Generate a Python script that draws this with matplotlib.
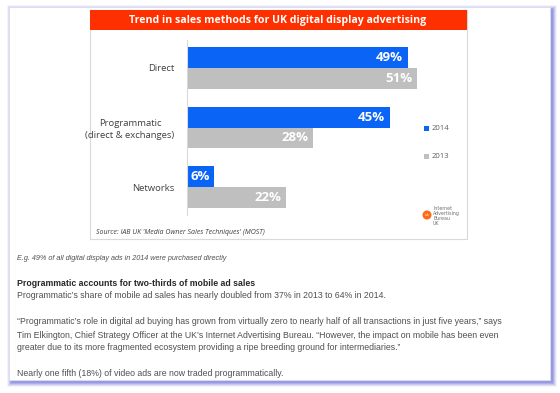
import matplotlib
matplotlib.use("Agg")
from matplotlib import pyplot as plt
from matplotlib.patches import Rectangle, Circle

categories = ["Direct", "Programmatic\n(direct & exchanges)", "Networks"]
values_2014 = [49, 45, 6]
values_2013 = [51, 28, 22]
series_names = ["2014", "2013"]
title = "Trend in sales methods for UK digital display advertising"
source = "Source: IAB UK 'Media Owner Sales Techniques' (MOST)"

W, H = 560, 393
BLUE = "#0a64f5"
GREY = "#bfbfbf"
RED = "#ff3000"


def fx(x):
    return x / W


def fy(y):
    return 1 - y / H


fig = plt.figure(figsize=(W / 100, H / 100), dpi=100)
fig.patch.set_facecolor("white")

# page frame with lavender shadow (heavier to the bottom-right)
bg = fig.add_axes([0, 0, 1, 1])
bg.set_xlim(0, W)
bg.set_ylim(H, 0)
bg.axis("off")
for i, a in enumerate([0.10, 0.18, 0.28, 0.42, 0.58]):
    d = 5 - i
    bg.add_patch(Rectangle((9 - d + 3, 7 - d + 3), 541 + 2 * d - 1, 373 + 2 * d - 1,
                           facecolor="#8a8ae0", alpha=a, edgecolor="none"))
bg.add_patch(Rectangle((9, 7), 541, 373, facecolor="white", edgecolor="#dcdcf0", lw=0.6))

# chart box + title band
bg.add_patch(Rectangle((90, 10), 377, 229, facecolor="white", edgecolor="#d9d9d9", lw=0.8))
bg.add_patch(Rectangle((90, 10), 377, 20, facecolor=RED, edgecolor="none"))
bg.text(278, 20, title, color="white", fontsize=7.6, fontweight="bold",
        family="Open Sans", ha="center", va="center")
bg.text(96, 233, source, color="#404040", fontsize=5.0, style="italic",
        family="Open Sans", ha="left", va="center")

# legend
bg.add_patch(Rectangle((424, 126), 5, 5, facecolor=BLUE, edgecolor="none"))
bg.add_patch(Rectangle((424, 154), 5, 5, facecolor=GREY, edgecolor="none"))
bg.text(432, 129, series_names[0], fontsize=5.6, color="#606060", family="Open Sans", va="center")
bg.text(432, 157, series_names[1], fontsize=5.6, color="#606060", family="Open Sans", va="center")

# IAB logo
bg.add_patch(Circle((427, 215), 4.5, facecolor="#ff6a13", edgecolor="none"))
bg.text(427, 215, "iab", fontsize=2.2, color="white", ha="center", va="center")
bg.text(433, 216, "Internet\nAdvertising\nBureau\nUK", fontsize=3.4, color="#707070",
        ha="left", va="center", linespacing=1.0)

# bar chart
ax = fig.add_axes([fx(187), fy(215), fx(457) - fx(187), fy(40) - fy(215)])
ax.set_xlim(0, 60)
ax.set_ylim(2.47, -0.47)
pos = list(range(len(categories)))
h = 0.345
ax.barh([p - h / 2 for p in pos], values_2014, height=h, color=BLUE)
ax.barh([p + h / 2 for p in pos], values_2013, height=h, color=GREY)
for p, v in zip(pos, values_2014):
    ax.text(v - 1, p - h / 2, f"{v}%", color="white", fontsize=9.5, fontweight="bold",
            family="Open Sans", ha="right", va="center")
for p, v in zip(pos, values_2013):
    ax.text(v - 1, p + h / 2, f"{v}%", color="white", fontsize=9.5, fontweight="bold",
            family="Open Sans", ha="right", va="center")
ax.set_yticks(pos)
ax.set_yticklabels(categories, fontsize=6.8, color="#404040", family="Open Sans",
                   linespacing=1.35, ha="right", multialignment="center")
ax.tick_params(axis="y", length=0, pad=9)
ax.set_xticks([])
for s in ["top", "right", "bottom"]:
    ax.spines[s].set_visible(False)
ax.spines["left"].set_color("#d9d9d9")
ax.spines["left"].set_linewidth(0.8)
ax.patch.set_alpha(0)

# article text below
fs = 6.3
txt = dict(family="Liberation Sans", color="#505050", ha="left", va="center")
bg.text(17, 259, "E.g. 49% of all digital display ads in 2014 were purchased directly",
        fontsize=5.2, style="italic", **txt)
bg.text(17, 283, "Programmatic accounts for two-thirds of mobile ad sales",
        fontsize=fs, fontweight="bold", family="Liberation Sans", color="#262626",
        ha="left", va="center")
bg.text(17, 296, "Programmatic\u2019s share of mobile ad sales has nearly doubled from 37% in 2013 to 64% in 2014.",
        fontsize=fs, **txt)
bg.text(17, 322, "\u201cProgrammatic\u2019s role in digital ad buying has grown from virtually zero to nearly half of all transactions in just five years,\u201d says",
        fontsize=fs, **txt)
bg.text(17, 335, "Tim Elkington, Chief Strategy Officer at the UK\u2019s Internet Advertising Bureau. \u201cHowever, the impact on mobile has been even",
        fontsize=fs, **txt)
bg.text(17, 348, "greater due to its more fragmented ecosystem providing a ripe breeding ground for intermediaries.\u201d",
        fontsize=fs, **txt)
bg.text(17, 374, "Nearly one fifth (18%) of video ads are now traded programmatically.",
        fontsize=fs, **txt)

fig.savefig("out.png", dpi=100)
